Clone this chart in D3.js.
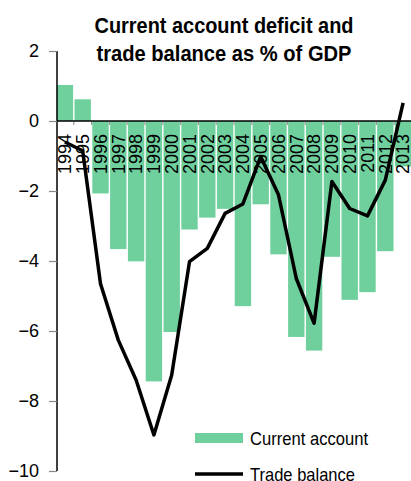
<!DOCTYPE html>
<html>
<head>
<meta charset="utf-8">
<script src="https://cdn.jsdelivr.net/npm/d3@7"></script>
<style>
  html, body { margin: 0; padding: 0; background: #fff; }
  svg { display: block; }
  text { font-family: "Liberation Sans", Arial, sans-serif; fill: #000; }
</style>
</head>
<body>
<svg id="chart" width="411" height="481"></svg>
<script>
const years = ["1994","1995","1996","1997","1998","1999","2000","2001","2002","2003",
               "2004","2005","2006","2007","2008","2009","2010","2011","2012","2013"];
const currentAccount = [1.03, 0.62, -2.07, -3.66, -4.01, -7.44, -6.03, -3.10, -2.76, -2.51,
                        -5.29, -2.38, -3.81, -6.17, -6.56, -3.88, -5.11, -4.89, -3.72, -1.3];
const tradeBalance = [-0.6, -0.85, -4.65, -6.26, -7.4, -8.97, -7.26, -4.02, -3.64, -2.64,
                      -2.37, -1.02, -2.11, -4.5, -5.78, -1.73, -2.5, -2.71, -1.69, 0.52];
const yTicks = [2, 0, -2, -4, -6, -8, -10];
const titleLines = ["Current account deficit and", "trade balance as % of GDP"];
const legendLabels = ["Current account", "Trade balance"];

const svg = d3.select("#chart");
const green = "#6FCF9D";

const x = d3.scaleBand().domain(years).range([56, 412]).paddingInner(0.08).paddingOuter(0.04);
const y = d3.scaleLinear().domain([-10, 2]).range([471, 51]);

// bars
svg.append("g").selectAll("rect").data(years).join("rect")
  .attr("x", d => x(d))
  .attr("width", x.bandwidth())
  .attr("y", (d, i) => y(Math.max(0, currentAccount[i])))
  .attr("height", (d, i) => Math.abs(y(currentAccount[i]) - y(0)))
  .attr("fill", green);

// y axis
const yAxis = d3.axisLeft(y).tickValues(yTicks).tickSize(8).tickPadding(10).tickFormat(d3.format("d"));
const gy = svg.append("g").attr("transform", "translate(57,0)").call(yAxis);
gy.select(".domain").attr("stroke", "#000").attr("stroke-width", 1.5).attr("d", `M0,${y(2)}V${y(-10)}`);
gy.selectAll(".tick line").attr("stroke", "#888").attr("stroke-width", 1.2);
gy.selectAll(".tick text").attr("font-size", 18).attr("font-family", "Liberation Sans, Arial, sans-serif").attr("fill", "#000");

// zero line + category ticks
const bounds = years.map(d => x(d) - x.step() * x.paddingInner() / 2).slice(1);
svg.append("g").selectAll("line").data(bounds).join("line")
  .attr("x1", d => d).attr("x2", d => d)
  .attr("y1", y(0)).attr("y2", y(0) + 4)
  .attr("stroke", "#999").attr("stroke-width", 1.2);
svg.append("line")
  .attr("x1", 57).attr("x2", 411).attr("y1", y(0)).attr("y2", y(0))
  .attr("stroke", "#000").attr("stroke-width", 1.5);

// year labels
svg.append("g").selectAll("text").data(years).join("text")
  .attr("transform", d => `translate(${x(d) + x.bandwidth() / 2},${y(0) + 13}) rotate(-90)`)
  .attr("text-anchor", "end")
  .attr("dy", "0.35em")
  .attr("font-size", 18)
  .text(d => d);

// trade balance line
const line = d3.line()
  .x((d, i) => x(years[i]) + x.bandwidth() / 2)
  .y(d => y(d));
svg.append("path")
  .datum(tradeBalance)
  .attr("d", line)
  .attr("fill", "none")
  .attr("stroke", "#000")
  .attr("stroke-width", 3.5)
  .attr("stroke-linejoin", "round");

// title
const title = svg.append("g");
title.append("text").attr("x", 224).attr("y", 33).attr("text-anchor", "middle")
  .attr("font-size", 22).attr("font-weight", "bold")
  .attr("textLength", 259).attr("lengthAdjust", "spacingAndGlyphs")
  .text(titleLines[0]);
title.append("text").attr("x", 224).attr("y", 61).attr("text-anchor", "middle")
  .attr("font-size", 22).attr("font-weight", "bold")
  .attr("textLength", 255).attr("lengthAdjust", "spacingAndGlyphs")
  .text(titleLines[1]);

// legend
const lg = svg.append("g");
lg.append("rect").attr("x", 195).attr("y", 433).attr("width", 48).attr("height", 10).attr("fill", green);
lg.append("text").attr("x", 250).attr("y", 445).attr("font-size", 19)
  .attr("textLength", 118).attr("lengthAdjust", "spacingAndGlyphs").text(legendLabels[0]);
lg.append("line").attr("x1", 195).attr("x2", 243).attr("y1", 474).attr("y2", 474)
  .attr("stroke", "#000").attr("stroke-width", 3.5);
lg.append("text").attr("x", 250).attr("y", 481).attr("font-size", 19)
  .attr("textLength", 105).attr("lengthAdjust", "spacingAndGlyphs").text(legendLabels[1]);
</script>
</body>
</html>
